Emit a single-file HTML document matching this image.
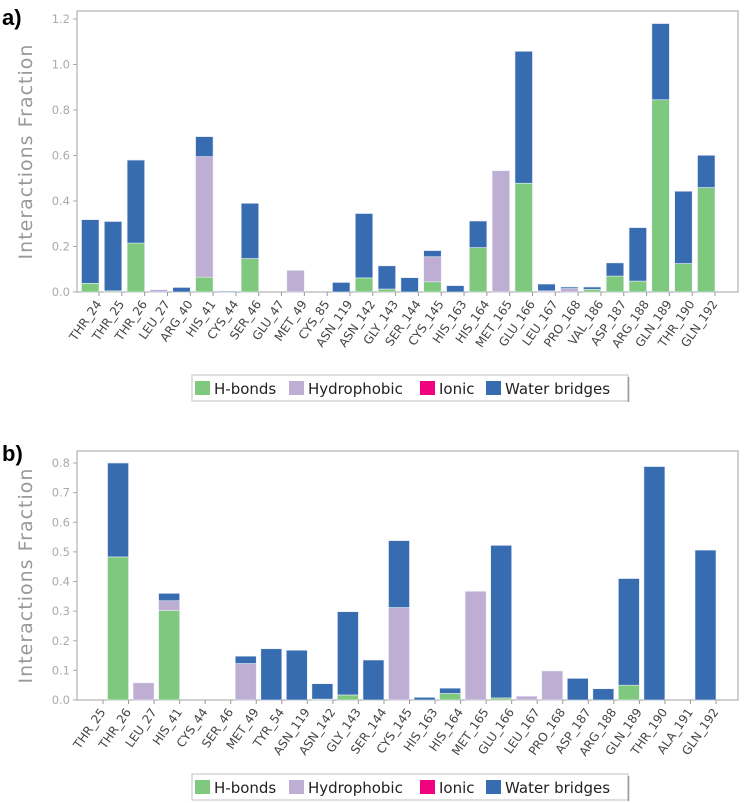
<!DOCTYPE html>
<html><head><meta charset="utf-8">
<style>
html,body{margin:0;padding:0;background:#fff;}
svg{display:block;font-family:"DejaVu Sans","Liberation Sans",sans-serif;}
</style></head>
<body>
<svg id="chart" width="749" height="803" viewBox="0 0 749 803"></svg>
<script>
// Panel a data
const catsA = ["THR_24","THR_25","THR_26","LEU_27","ARG_40","HIS_41","CYS_44","SER_46","GLU_47","MET_49","CYS_85","ASN_119","ASN_142","GLY_143","SER_144","CYS_145","HIS_163","HIS_164","MET_165","GLU_166","LEU_167","PRO_168","VAL_186","ASP_187","ARG_188","GLN_189","THR_190","GLN_192"];
const hbondA = [0.038,0.005,0.215,0,0,0.065,0,0.147,0,0,0,0,0.062,0.013,0,0.045,0,0.195,0,0.478,0,0,0.012,0.07,0.048,0.845,0.125,0.459];
const hydroA = [0,0,0,0.01,0,0.53,0,0,0,0.095,0,0,0,0,0,0.11,0,0,0.533,0,0.005,0.015,0,0,0,0,0,0];
const ionicA = new Array(28).fill(0);
const waterA = [0.28,0.305,0.365,0,0.02,0.088,0.004,0.243,0,0,0,0.042,0.283,0.102,0.063,0.027,0.028,0.117,0,0.58,0.03,0.007,0.01,0.058,0.235,0.335,0.318,0.142];
const ticksA = [0.0,0.2,0.4,0.6,0.8,1.0,1.2];
// Panel b data
const catsB = ["THR_25","THR_26","LEU_27","HIS_41","CYS_44","SER_46","MET_49","TYR_54","ASN_119","ASN_142","GLY_143","SER_144","CYS_145","HIS_163","HIS_164","MET_165","GLU_166","LEU_167","PRO_168","ASP_187","ARG_188","GLN_189","THR_190","ALA_191","GLN_192"];
const hbondB = [0,0.483,0,0.302,0,0,0,0,0,0.003,0.017,0,0,0,0.022,0,0.007,0,0,0,0,0.05,0,0,0];
const hydroB = [0,0,0.058,0.033,0,0,0.123,0,0,0,0,0,0.312,0,0,0.367,0,0.013,0.098,0,0,0,0,0,0];
const ionicB = new Array(25).fill(0);
const waterB = [0,0.317,0,0.025,0,0,0.025,0.173,0.168,0.052,0.281,0.135,0.226,0.009,0.018,0,0.515,0,0,0.073,0.038,0.36,0.788,0,0.506];
const ticksB = [0.0,0.1,0.2,0.3,0.4,0.5,0.6,0.7,0.8];

const NS="http://www.w3.org/2000/svg";
const svg=document.getElementById('chart');
const COLORS={hbond:"#7fc97f",hydro:"#beaed4",ionic:"#f0027f",water:"#386cb0"};
function mk(tag,attrs,parent){const e=document.createElementNS(NS,tag);for(const k in attrs)e.setAttribute(k,attrs[k]);(parent||svg).appendChild(e);return e;}

function panel(cfg){
  const g=mk('g',{});
  
  
  const y=v=>cfg.y0-(v/cfg.ymax)*(cfg.y0-cfg.yTop);
  const n=cfg.cats.length;
  const step=(cfg.xLast-cfg.x0)/(n-1);
  const x=i=>cfg.x0+i*step; // tick position (bar right edge)
  const lab=mk('text',{x:2,y:cfg.labelY,'font-size':22,'font-weight':'bold','font-family':'"Liberation Sans",sans-serif',fill:'#000'},g);
  lab.textContent=cfg.label;
  
  
  const frame=mk('rect',{x:77,y:cfg.boxTop,width:661,height:cfg.y0-cfg.boxTop,fill:'none',stroke:'#b0b0b0','stroke-width':1.2},g);
  
  
  cfg.ticks.forEach(t=>{
    const tx=mk('text',{x:70,y:y(t)+4,'font-size':11.5,fill:'#aaa','text-anchor':'end'},g);
    tx.textContent=t.toFixed(1);
    
    
    mk('line',{x1:73,x2:77,y1:y(t),y2:y(t),stroke:'#aaa'},g);
  });
  const yt=mk('text',{x:0,y:0,'font-size':19,fill:'#999','text-anchor':'middle','letter-spacing':'1',transform:`translate(32,${(cfg.y0+cfg.boxTop)/2}) rotate(-90)`},g);
  yt.textContent='Interactions Fraction';
  
  
  cfg.cats.forEach((c,i)=>{
    const xr=x(i), xl=xr-cfg.bw;
    let base=0;
    [['hbond',cfg.hb],['hydro',cfg.hy],['ionic',cfg.io],['water',cfg.wa]].forEach(([k,arr])=>{
      const v=arr[i];
      if(v>0){
        const r=mk('rect',{x:xl,y:y(base+v),width:cfg.bw,height:y(base)-y(base+v),fill:COLORS[k],stroke:'#e8eef8','stroke-width':0.6},g);
        
        
      }
      base+=v;
    });
    mk('line',{x1:xr,x2:xr,y1:cfg.y0,y2:cfg.y0+4,stroke:'#999'},g);
    const tl=mk('text',{x:0,y:0,'font-size':12,fill:'#444','text-anchor':'end',transform:`translate(${xr+3},${cfg.y0+12}) rotate(-55)`},g);
    tl.textContent=c;
    
    
  });
  const lg=mk('g',{},g);
  
  
  mk('rect',{x:192,y:cfg.legY,width:436,height:26,fill:'#fff',stroke:'#ccc','stroke-width':1.2},lg);
  mk('line',{x1:628.5,x2:628.5,y1:cfg.legY+2,y2:cfg.legY+27,stroke:'#999','stroke-width':1.5},lg);
  const items=[['H-bonds','hbond',194],['Hydrophobic','hydro',288],['Ionic','ionic',419],['Water bridges','water',485]];
  items.forEach(([t,k,lx])=>{
    const sw=mk('rect',{x:lx+1,y:cfg.legY+6,width:15,height:14,fill:COLORS[k]},lg);
    
    
    const tt=mk('text',{x:lx+20,y:cfg.legY+19,'font-size':15,fill:'#222'},lg);
    tt.textContent=t;
    
    
  });
}
panel({name:'panel-a',label:'a)',labelY:25,cats:catsA,hb:hbondA,hy:hydroA,io:ionicA,wa:waterA,ticks:ticksA,ymax:1.2,y0:292,yTop:19,boxTop:11,x0:99,xLast:715,bw:17.5,legY:375});
panel({name:'panel-b',label:'b)',labelY:461,cats:catsB,hb:hbondB,hy:hydroB,io:ionicB,wa:waterB,ticks:ticksB,ymax:0.8,y0:700,yTop:463,boxTop:451,x0:103,xLast:716,bw:21,legY:774});
</script>
</body></html>
